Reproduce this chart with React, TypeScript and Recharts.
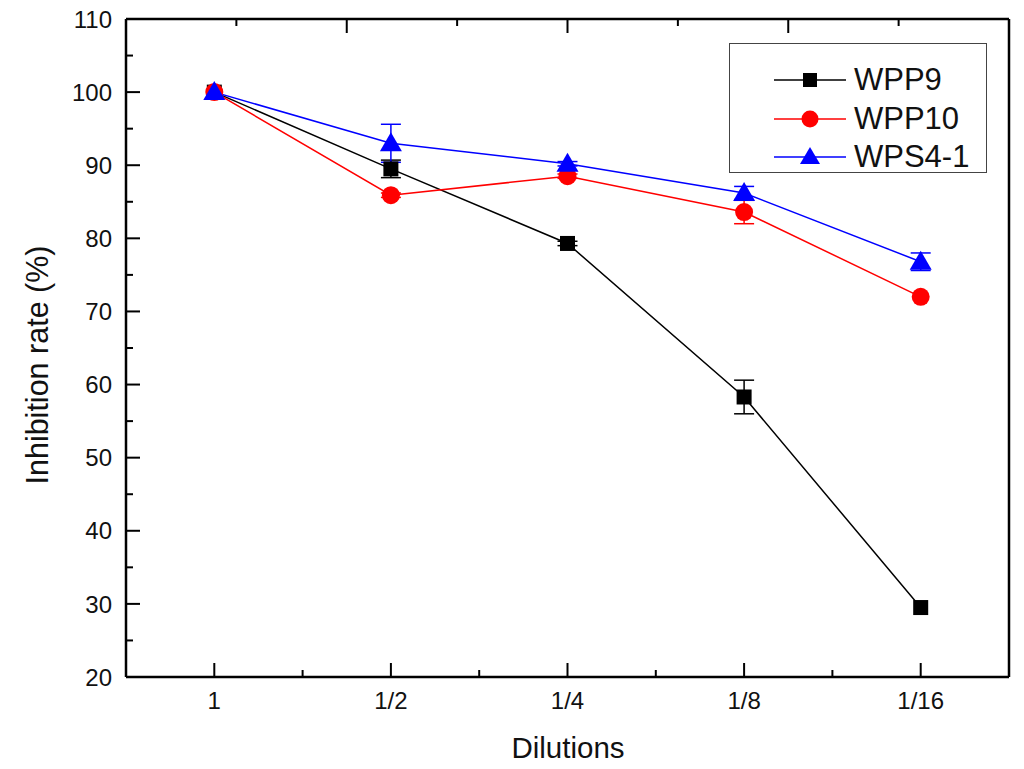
import React from "react";
import {
  LineChart,
  Line,
  XAxis,
  YAxis,
  ErrorBar,
  Legend,
  Label,
} from "recharts";

const dilutions = ["1", "1/2", "1/4", "1/8", "1/16"];
const wpp9 = [100, 89.5, 79.3, 58.3, 29.5];
const wpp9Err = [0, 1.2, 0.3, 2.3, 0];
const wpp10 = [100, 85.9, 88.5, 83.6, 72.0];
const wpp10Err = [0, 0.3, 0.3, 1.6, 0];
const wps41 = [100, 93.0, 90.2, 86.2, 76.8];
const wps41Err = [0, 2.6, 0.3, 0.9, 1.2];

const xTicks = [0, 0.5, 1, 1.5, 2, 2.5, 3, 3.5, 4];
const yTicks = [20, 25, 30, 35, 40, 45, 50, 55, 60, 65, 70, 75, 80, 85, 90, 95, 100, 105, 110];

const data = dilutions.map((d, i) => ({
  x: i,
  wpp9: wpp9[i],
  wpp9Err: wpp9Err[i],
  wpp10: wpp10[i],
  wpp10Err: wpp10Err[i],
  wps41: wps41[i],
  wps41Err: wps41Err[i],
}));

const FONT = "'Liberation Sans', Arial, sans-serif";

const BottomTick = (props: any) => {
  const { x, y, payload } = props;
  const major = Number.isInteger(payload.value);
  return (
    <g>
      <line x1={x} x2={x} y1={y} y2={y - (major ? 14 : 7)} stroke="#000" strokeWidth={2} />
      {major && (
        <text x={x} y={y + 32} textAnchor="middle" fontSize={24} fontFamily={FONT} fill="#111">
          {dilutions[payload.value]}
        </text>
      )}
    </g>
  );
};

const TopTick = (props: any) => {
  const { x, y, payload } = props;
  const major = Number.isInteger(payload.value);
  return <line x1={x} x2={x} y1={y} y2={y + (major ? 14 : 7)} stroke="#000" strokeWidth={2} />;
};

const LeftTick = (props: any) => {
  const { x, y, payload } = props;
  const major = payload.value % 10 === 0;
  return (
    <g>
      <line x1={x} x2={x + (major ? 14 : 7)} y1={y} y2={y} stroke="#000" strokeWidth={2} />
      {major && (
        <text x={x - 14} y={y} dy="0.36em" textAnchor="end" fontSize={24} fontFamily={FONT} fill="#111">
          {payload.value}
        </text>
      )}
    </g>
  );
};

const RightTick = (props: any) => {
  const { x, y, payload } = props;
  const major = payload.value % 10 === 0;
  return <line x1={x} x2={x - (major ? 14 : 7)} y1={y} y2={y} stroke="#000" strokeWidth={2} />;
};

const Square = (props: any) => {
  const { cx, cy, index } = props;
  return <rect key={"s" + index} x={cx - 7.5} y={cy - 7.5} width={15} height={15} fill="#000" />;
};

const Circle = (props: any) => {
  const { cx, cy, index } = props;
  return <circle key={"c" + index} cx={cx} cy={cy} r={9} fill="#ff0000" />;
};

const Triangle = (props: any) => {
  const { cx, cy, index } = props;
  return (
    <path
      key={"t" + index}
      d={`M${cx},${cy - 11} L${cx + 11},${cy + 8} L${cx - 11},${cy + 8} Z`}
      fill="#0000ff"
    />
  );
};

const legendItems = [
  { name: "WPP9", color: "#000000", marker: "square" },
  { name: "WPP10", color: "#ff0000", marker: "circle" },
  { name: "WPS4-1", color: "#0000ff", marker: "triangle" },
];

const LegendBox = () => (
  <div
    style={{
      width: 256,
      height: 128,
      border: "1.5px solid #444",
      background: "#fff",
      position: "relative",
      fontFamily: FONT,
    }}
  >
    {legendItems.map((it, i) => (
      <div
        key={it.name}
        style={{ position: "absolute", left: 44, top: 17 + i * 38.5, height: 38, display: "flex", alignItems: "center" }}
      >
        <svg width={72} height={24}>
          <line x1={0} x2={72} y1={12} y2={12} stroke={it.color} strokeWidth={1.5} />
          {it.marker === "square" && <rect x={29} y={5} width={14} height={14} fill={it.color} />}
          {it.marker === "circle" && <circle cx={36} cy={12} r={8.5} fill={it.color} />}
          {it.marker === "triangle" && <path d="M36,2 L46,19 L26,19 Z" fill={it.color} />}
        </svg>
        <span style={{ marginLeft: 8, fontSize: 31, color: "#111", lineHeight: "38px" }}>{it.name}</span>
      </div>
    ))}
  </div>
);

export default function App() {
  return (
    <div style={{ position: "absolute", left: 0, top: 0, width: 1024, height: 769, background: "#fff" }}>
      <LineChart
        width={1024}
        height={769}
        data={data}
        margin={{ top: 18, right: 14, bottom: 12, left: 66 }}
      >
        <XAxis
          dataKey="x"
          type="number"
          domain={[-0.5, 4.5]}
          ticks={xTicks}
          interval={0}
          tick={<BottomTick />}
          tickLine={false}
          tickSize={0}
          tickMargin={0}
          height={80}
          axisLine={{ stroke: "#000", strokeWidth: 2.5 }}
        >
          <Label
            content={() => (
              <text x={568} y={758} textAnchor="middle" fontSize={29.5} fontFamily={FONT} fill="#111">
                Dilutions
              </text>
            )}
          />
        </XAxis>
        <XAxis
          xAxisId="top"
          orientation="top"
          type="number"
          domain={[-0.5, 4.5]}
          ticks={xTicks}
          interval={0}
          tick={<TopTick />}
          tickLine={false}
          tickSize={0}
          tickMargin={0}
          height={1}
          axisLine={{ stroke: "#000", strokeWidth: 2.5 }}
        />
        <YAxis
          type="number"
          domain={[20, 110]}
          ticks={yTicks}
          interval={0}
          tick={<LeftTick />}
          tickLine={false}
          tickSize={0}
          tickMargin={0}
          width={60}
          axisLine={{ stroke: "#000", strokeWidth: 2.5 }}
        >
          <Label
            content={() => (
              <text
                x={0}
                y={0}
                transform="translate(48,365) rotate(-90)"
                textAnchor="middle"
                fontSize={30.5}
                fontFamily={FONT}
                fill="#111"
              >
                Inhibition rate (%)
              </text>
            )}
          />
        </YAxis>
        <YAxis
          yAxisId="right"
          orientation="right"
          type="number"
          domain={[20, 110]}
          ticks={yTicks}
          interval={0}
          tick={<RightTick />}
          tickLine={false}
          tickSize={0}
          tickMargin={0}
          width={1}
          axisLine={{ stroke: "#000", strokeWidth: 2.5 }}
        />
        <Legend
          layout="vertical"
          align="center"
          verticalAlign="middle"
          content={<LegendBox />}
          wrapperStyle={{ position: "absolute", left: 729, top: 43, width: 259, height: 131 }}
        />
        <Line
          dataKey="wpp9"
          stroke="#000000"
          strokeWidth={1.5}
          dot={Square}
          activeDot={false}
          isAnimationActive={false}
        >
          <ErrorBar dataKey="wpp9Err" width={10} stroke="#000" strokeWidth={1.5} isAnimationActive={false} />
        </Line>
        <Line
          dataKey="wpp10"
          stroke="#ff0000"
          strokeWidth={1.5}
          dot={Circle}
          activeDot={false}
          isAnimationActive={false}
        >
          <ErrorBar dataKey="wpp10Err" width={10} stroke="#ff0000" strokeWidth={1.5} isAnimationActive={false} />
        </Line>
        <Line
          dataKey="wps41"
          stroke="#0000ff"
          strokeWidth={1.5}
          dot={Triangle}
          activeDot={false}
          isAnimationActive={false}
        >
          <ErrorBar dataKey="wps41Err" width={10} stroke="#0000ff" strokeWidth={1.5} isAnimationActive={false} />
        </Line>
      </LineChart>
    </div>
  );
}
